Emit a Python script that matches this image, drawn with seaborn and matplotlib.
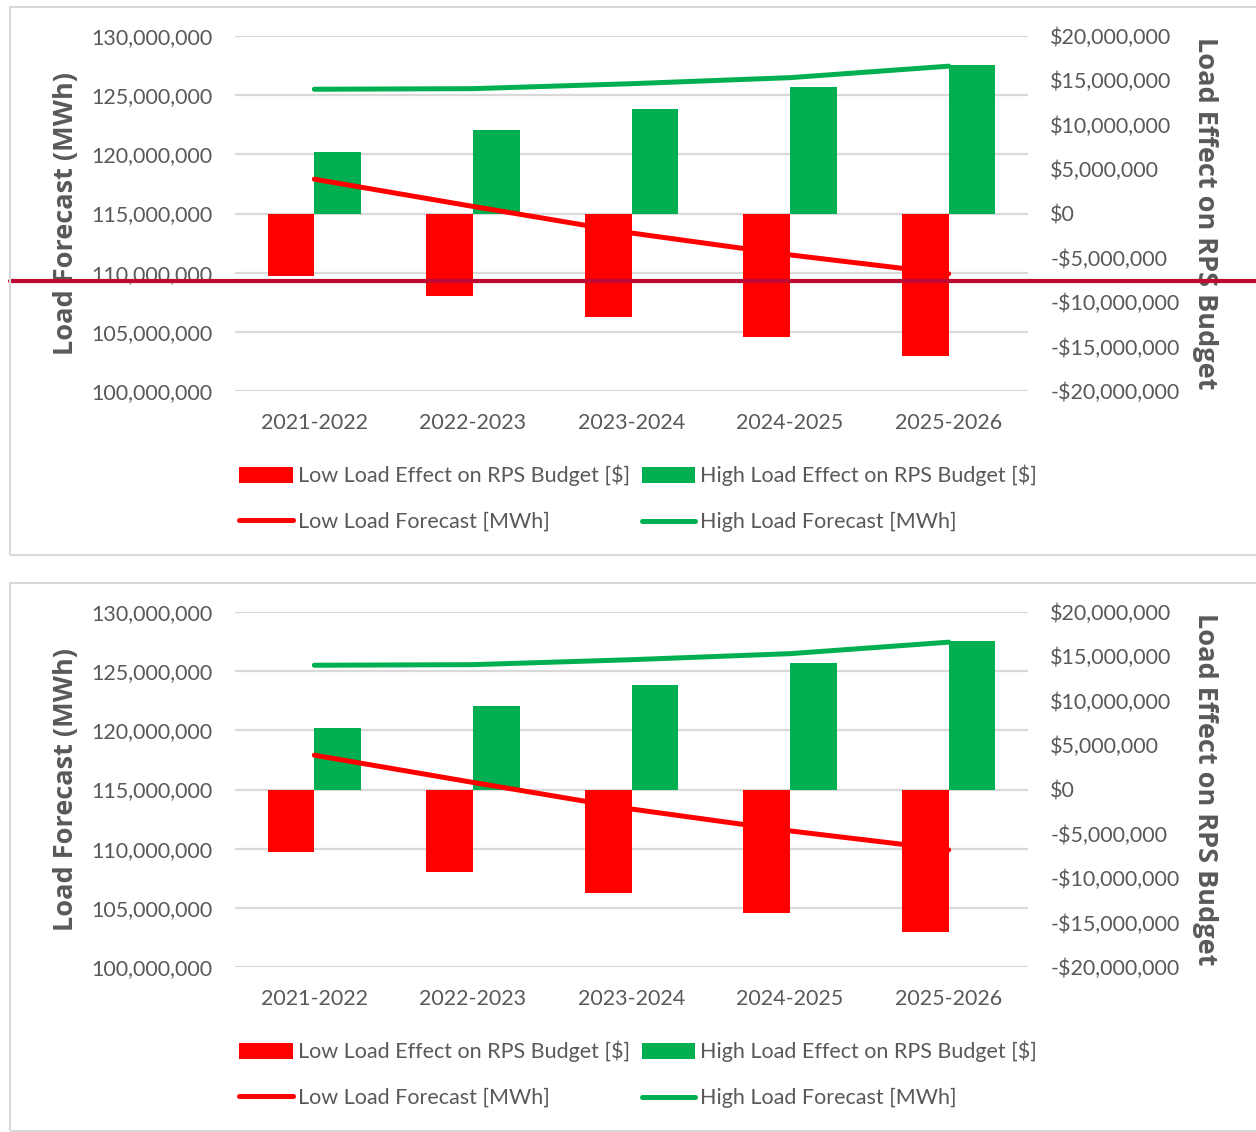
import numpy as np
import pandas as pd
import matplotlib
matplotlib.use("Agg")
import matplotlib.pyplot as plt
import seaborn as sns
from matplotlib.patches import Rectangle, Patch
from matplotlib.lines import Line2D
from matplotlib.ticker import FuncFormatter, MultipleLocator

# ---------------- data ----------------
years = ["2021-2022", "2022-2023", "2023-2024", "2024-2025", "2025-2026"]
low_effect = [-7.0e6, -9.33e6, -11.65e6, -13.9e6, -16.05e6]
high_effect = [6.9e6, 9.38e6, 11.82e6, 14.25e6, 16.72e6]
low_forecast = [117.9e6, 115.6e6, 113.35e6, 111.5e6, 109.9e6]
high_forecast = [125.5e6, 125.55e6, 125.97e6, 126.48e6, 127.45e6]

effect_labels = ["Low Load Effect on RPS Budget [$]", "High Load Effect on RPS Budget [$]"]
forecast_labels = ["Low Load Forecast [MWh]", "High Load Forecast [MWh]"]
left_label = "Load Forecast (MWh)"
right_label = "Load Effect on RPS Budget"
marker_level = 109.3e6  # dark red horizontal rule in the first panel

RED = "#FF0000"
GREEN = "#00B050"
GRAY = "#595959"
GRID = "#D9D9D9"

sns.set_theme(style="white")
plt.rcParams["font.family"] = ["Lato", "DejaVu Sans"]

bars_df = pd.DataFrame({
    "year": years * 2,
    "series": [effect_labels[0]] * 5 + [effect_labels[1]] * 5,
    "value": low_effect + high_effect,
})
lines_df = pd.DataFrame({
    "x": list(range(5)) * 2,
    "series": [forecast_labels[0]] * 5 + [forecast_labels[1]] * 5,
    "value": low_forecast + high_forecast,
})

W, H = 1256, 1132
fig = plt.figure(figsize=(W / 100, H / 100), dpi=100)

def fx(px):
    return px / W

def fy(py):
    return 1 - py / H

FS = 15.5
LABEL_FONT = dict(family=["Open Sans", "DejaVu Sans"], fontsize=19.5,
                  fontweight="bold", color=GRAY)

def panel(top_offset, with_rule):
    # panel border
    fig.patches.append(Rectangle((fx(10), fy(top_offset + 548)), fx(1260 - 10),
                                 548 / H, transform=fig.transFigure,
                                 fill=False, edgecolor=GRID, lw=1.5, zorder=0))
    ax_top = top_offset + 29
    ax_bot = top_offset + 384
    ax = fig.add_axes([fx(235), fy(ax_bot), fx(1028 - 235), (ax_bot - ax_top) / H])
    ax2 = ax.twinx()
    ax3 = ax.twinx()

    # base axis: left scale + gridlines
    ax.set_ylim(100e6, 130e6)
    ax.yaxis.set_major_locator(MultipleLocator(5e6))
    ax.yaxis.set_major_formatter(FuncFormatter(lambda v, p: f"{v:,.0f}"))
    ax.grid(axis="y", color=GRID, lw=1.6)
    ax.grid(axis="x", visible=False)
    ax.set_axisbelow(True)

    # bars on the right scale
    sns.barplot(data=bars_df, x="year", y="value", hue="series",
                hue_order=effect_labels, palette=[RED, GREEN],
                width=0.59, saturation=1, ax=ax2, legend=False,
                edgecolor="none", linewidth=0)
    ax2.set_ylim(-20e6, 20e6)
    ax2.yaxis.set_major_locator(MultipleLocator(5e6))
    ax2.yaxis.set_major_formatter(FuncFormatter(
        lambda v, p: ("-$" if v < 0 else "$") + f"{abs(v):,.0f}"))
    ax2.grid(False)

    # lines on the left scale
    sns.lineplot(data=lines_df, x="x", y="value", hue="series",
                 hue_order=forecast_labels, palette=[RED, GREEN],
                 lw=3.6, ax=ax3, legend=False, solid_capstyle="round")
    ax3.set_ylim(100e6, 130e6)
    ax3.set_yticks([])
    ax3.grid(False)
    ax3.set_ylabel("")
    for a in (ax, ax2, ax3):
        a.set_xlim(-0.5, 4.5)
        for s in a.spines.values():
            s.set_visible(False)
    ax3.set_xlabel("")
    ax2.set_xlabel("")
    ax.set_xlabel("")

    ax.tick_params(axis="y", length=0, pad=16, labelsize=FS, labelcolor=GRAY)
    ax2.tick_params(axis="y", length=0, pad=16, labelsize=FS, labelcolor=GRAY)
    ax.tick_params(axis="x", length=0, pad=15.5, labelsize=FS, labelcolor=GRAY)
    ax2.tick_params(axis="x", length=0, pad=15.5, labelsize=FS, labelcolor=GRAY)
    ax3.tick_params(axis="x", length=0, labelbottom=False)
    ax.set_xticks(range(5))
    ax.set_xticklabels(years)

    ax.set_ylabel(left_label, **LABEL_FONT)
    ax2.set_ylabel(right_label, rotation=-90, va="center", ha="center", **LABEL_FONT)
    ax.yaxis.set_label_coords((66 - 235) / 793, 0.5)
    ax.yaxis.label.set_va("center")
    ax2.yaxis.set_label_coords((1205 - 235) / 793, 0.5)

    if with_rule:
        ax3.axhline(marker_level, xmin=(10 - 235) / 793, xmax=(1260 - 235) / 793,
                    color="#BE0A32", lw=3.0, clip_on=False, zorder=10)

    handles = [
        Patch(facecolor=RED, edgecolor="none", label=effect_labels[0]),
        Line2D([0], [0], color=RED, lw=3.6, solid_capstyle="round", label=forecast_labels[0]),
        Patch(facecolor=GREEN, edgecolor="none", label=effect_labels[1]),
        Line2D([0], [0], color=GREEN, lw=3.6, solid_capstyle="round", label=forecast_labels[1]),
    ]
    leg_y = top_offset + 491.5
    fig.legend(handles=handles, ncol=2, loc="center",
               bbox_to_anchor=(fx(638), fy(leg_y)), frameon=False,
               fontsize=FS, labelcolor=GRAY, handlelength=2.5, handleheight=0.75,
               handletextpad=0.2, columnspacing=0.55, labelspacing=1.2,
               borderpad=0, borderaxespad=0)

panel(7, True)
panel(583, False)

fig.savefig("out.png", dpi=100, facecolor="white")
